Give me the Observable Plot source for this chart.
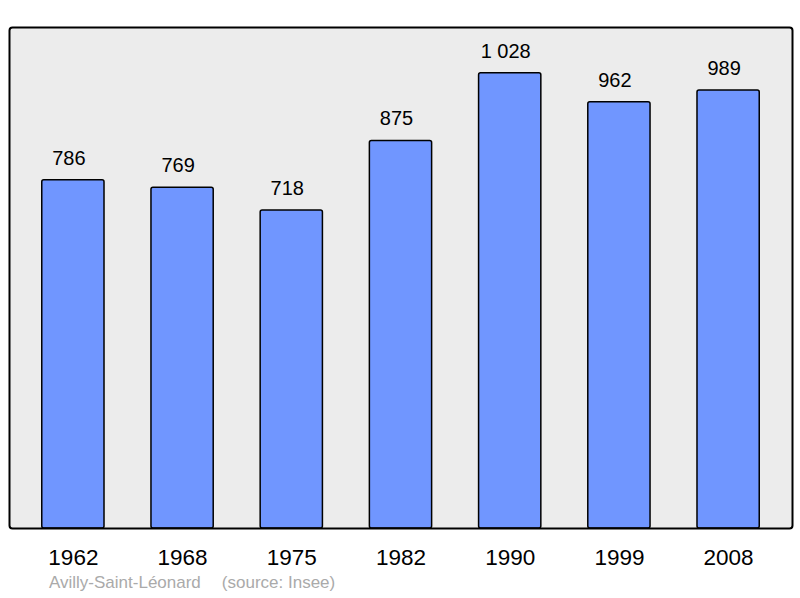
<!DOCTYPE html>
<html>
<head>
<meta charset="utf-8">
<script src="https://cdn.jsdelivr.net/npm/d3@7"></script>
<script src="https://cdn.jsdelivr.net/npm/@observablehq/plot@0.6"></script>
<style>
body { margin: 0; background: #fff; position: relative; width: 800px; height: 598px; overflow: hidden; }
#caption { position: absolute; left: 49px; top: 573px; font: 17px "Liberation Sans", Arial, sans-serif; line-height: 20px; color: #aaaaaa; white-space: pre; }
</style>
</head>
<body>
<div id="chart"></div>
<div id="caption">Avilly-Saint-Léonard<span style="margin-left:21px">(source: Insee)</span></div>
<script>
const years = ["1962", "1968", "1975", "1982", "1990", "1999", "2008"];
const population = [786, 769, 718, 875, 1028, 962, 989];
const valueLabels = ["786", "769", "718", "875", "1 028", "962", "989"];

const data = years.map((y, i) => ({year: y, pop: population[i], label: valueLabels[i]}));

const chart = Plot.plot({
  width: 800,
  height: 570,
  marginLeft: 9,
  marginRight: 8,
  marginTop: 27,
  marginBottom: 42,
  style: {fontFamily: "'Liberation Sans', Arial, sans-serif", background: "transparent"},
  x: {domain: years, paddingInner: 0.43, paddingOuter: 0.3, round: false},
  y: {domain: [0, 1131]},
  marks: [
    Plot.frame({fill: "#ececec", stroke: null, rx: 3}),
    Plot.barY(data, {x: "year", y: "pop", fill: "#7096ff", stroke: "#000", strokeWidth: 1.5, rx: 2}),
    Plot.frame({stroke: "#000", strokeWidth: 2, rx: 3}),
    Plot.text(data, {x: "year", y: "pop", text: "label", dy: -22, dx: -4.5, fontSize: 20, fill: "#000"}),
    Plot.axisX({tickSize: 0, tickPadding: 21, fontSize: 22.5, label: null, color: "#000"}),
    Plot.axisY({ticks: [], label: null, tickSize: 0})
  ]
});
document.getElementById("chart").appendChild(chart);
</script>
</body>
</html>
